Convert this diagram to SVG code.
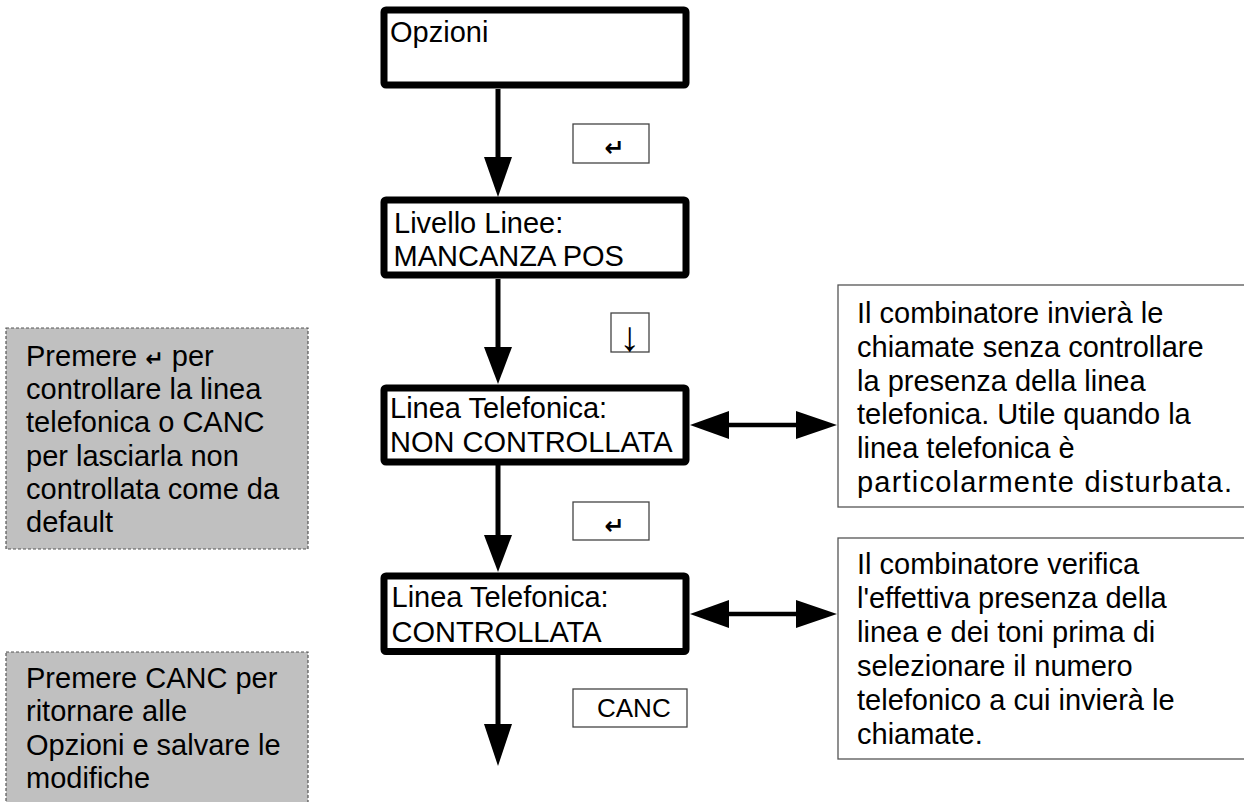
<svg xmlns="http://www.w3.org/2000/svg" width="1244" height="802" viewBox="0 0 1244 802">
<style>
text{font-family:"Liberation Sans",Arial,"DejaVu Sans",sans-serif;font-size:29px;fill:#000}
.state{fill:#fff;stroke:#000;stroke-width:7;stroke-linejoin:round}
.key{fill:#fff;stroke:#444;stroke-width:1.3}
.info{fill:#fff;stroke:#555;stroke-width:1.3}
.note{fill:#c0c0c0;stroke:#555;stroke-width:1.2;stroke-dasharray:3,2}
.flow{stroke:#000;stroke-width:5;fill:none}
.link{stroke:#000;stroke-width:4.5;fill:none}
.head{fill:#000;stroke:none}
.sym{font-family:"DejaVu Sans",sans-serif;font-size:24px;font-weight:bold}
.nsym{font-family:"DejaVu Sans",sans-serif;font-size:22px;font-weight:bold}
.down{font-size:42px}
.canc{font-size:26px}
</style>
<g id="connectors">
<line class="flow" x1="498" y1="89" x2="498" y2="160"/>
<polygon class="head" points="484,157 512,157 498,197"/>
<line class="flow" x1="498" y1="279" x2="498" y2="350"/>
<polygon class="head" points="484,347 512,347 498,384"/>
<line class="flow" x1="498" y1="465" x2="498" y2="538"/>
<polygon class="head" points="484,535 512,535 498,572"/>
<line class="flow" x1="498" y1="655" x2="498" y2="727"/>
<polygon class="head" points="484,724 512,724 498,766"/>
<line class="link" x1="725" y1="425" x2="800" y2="425"/>
<polygon class="head" points="690,425 729,411 729,439"/>
<polygon class="head" points="837,425 796,411 796,439"/>
<line class="link" x1="725" y1="614" x2="800" y2="614"/>
<polygon class="head" points="690,614 729,600 729,628"/>
<polygon class="head" points="837,614 796,600 796,628"/>
</g>
<g id="opzioni">
<rect class="state" x="384" y="10" width="302" height="75" rx="2"/>
<text x="390" y="42">Opzioni</text>
</g>
<g id="livello">
<rect class="state" x="384" y="200" width="302" height="75" rx="2"/>
<text x="394" y="232.5">Livello Linee:</text>
<text x="393.5" y="266">MANCANZA POS</text>
</g>
<g id="non-controllata">
<rect class="state" x="384" y="388" width="302" height="74" rx="2"/>
<text x="390" y="418">Linea Telefonica:</text>
<text x="390" y="452">NON CONTROLLATA</text>
</g>
<g id="controllata">
<rect class="state" x="384" y="576" width="302" height="75.5" rx="2"/>
<text x="391.5" y="607">Linea Telefonica:</text>
<text x="391.5" y="641.5">CONTROLLATA</text>
</g>
<g id="key-enter-1">
<rect class="key" x="573" y="124" width="76" height="39"/>
<text class="sym" x="614.5" y="156" text-anchor="middle">↵</text>
</g>
<g id="key-down">
<rect class="key" x="611" y="313" width="38" height="39"/>
<text class="down" x="629.5" y="351" text-anchor="middle">↓</text>
</g>
<g id="key-enter-2">
<rect class="key" x="573" y="502" width="76" height="38"/>
<text class="sym" x="614.5" y="534" text-anchor="middle">↵</text>
</g>
<g id="key-canc">
<rect class="key" x="573" y="689" width="114" height="38"/>
<text class="canc" x="597" y="717">CANC</text>
</g>
<g id="info-non-controllata">
<rect class="info" x="838" y="285" width="420" height="222"/>
<text x="857" y="322.5">Il combinatore invierà le</text>
<text x="857" y="356.5">chiamate senza controllare</text>
<text x="857" y="390.5">la presenza della linea</text>
<text x="857" y="424">telefonica. Utile quando la</text>
<text x="857" y="458">linea telefonica è</text>
<text x="857" y="492" textLength="375" lengthAdjust="spacing">particolarmente disturbata.</text>
</g>
<g id="info-controllata">
<rect class="info" x="838" y="538" width="420" height="221"/>
<text x="857" y="574">Il combinatore verifica</text>
<text x="857" y="608">l'effettiva presenza della</text>
<text x="857" y="642">linea e dei toni prima di</text>
<text x="857" y="676">selezionare il numero</text>
<text x="857" y="710">telefonico a cui invierà le</text>
<text x="857" y="744">chiamate.</text>
</g>
<g id="note-1">
<rect class="note" x="6" y="328" width="302" height="221"/>
<text x="26" y="365.5">Premere <tspan class="nsym">↵</tspan> per</text>
<text x="26" y="399">controllare la linea</text>
<text x="26" y="432">telefonica o CANC</text>
<text x="26" y="465.5">per lasciarla non</text>
<text x="26" y="499">controllata come da</text>
<text x="26" y="532">default</text>
</g>
<g id="note-2">
<rect class="note" x="6" y="652" width="302" height="160"/>
<text x="26" y="688">Premere CANC per</text>
<text x="26" y="721">ritornare alle</text>
<text x="26" y="755">Opzioni e salvare le</text>
<text x="26" y="788">modifiche</text>
</g>
</svg>
